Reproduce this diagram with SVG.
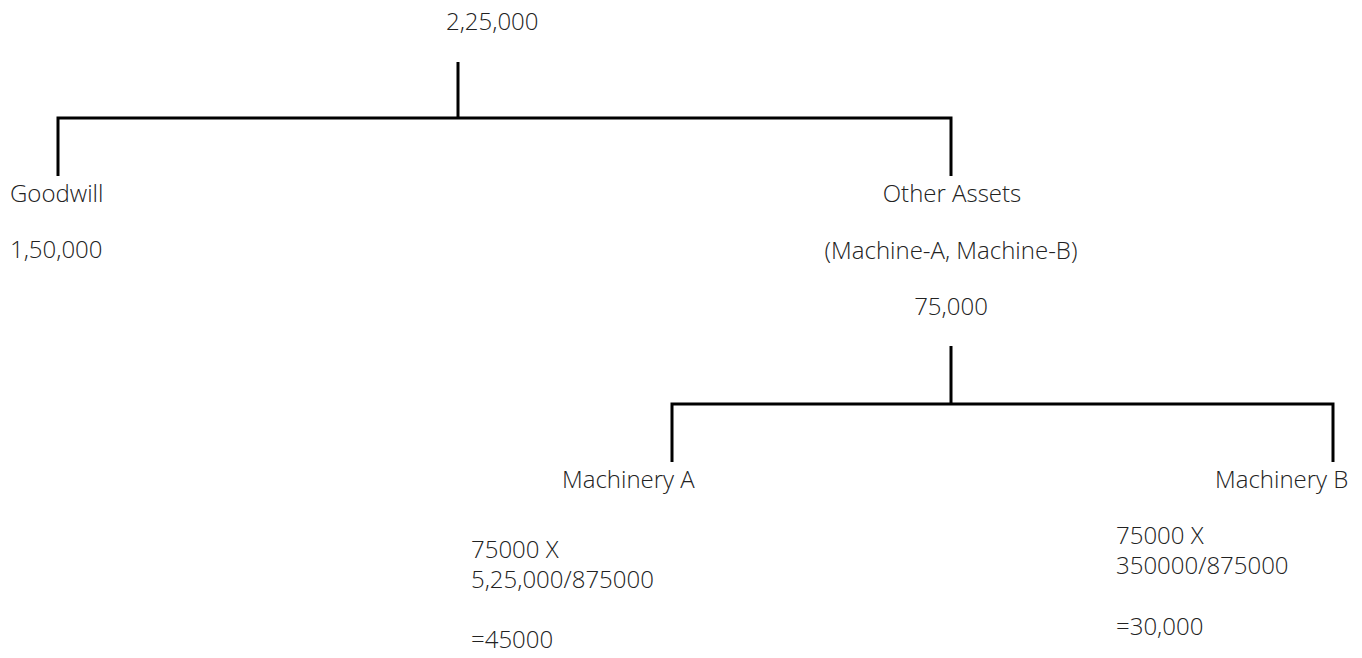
<svg xmlns="http://www.w3.org/2000/svg" width="1362" height="658" viewBox="0 0 1362 658">
<style>
.t{font-family:"Open Sans","Noto Sans",sans-serif;font-size:24px;font-weight:300;fill:#222}
.c{fill:none;stroke:#000;stroke-width:3}
</style>
<rect width="1362" height="658" fill="#fff"/>
<g id="connectors">
<path class="c" d="M458 62V118M58 176V118H951V176"/>
<path class="c" d="M951 346V404M672 462V404H1333V462"/>
</g>
<g id="root"><text class="t" x="446" y="30">2,25,000</text></g>
<g id="goodwill"><text class="t" x="10" y="202">Goodwill</text><text class="t" x="10" y="258">1,50,000</text></g>
<g id="other-assets"><text class="t" x="952" y="202" text-anchor="middle">Other Assets</text><text class="t" x="951" y="259" text-anchor="middle">(Machine-A, Machine-B)</text><text class="t" x="951" y="315" text-anchor="middle">75,000</text></g>
<g id="machinery-a"><text class="t" x="562" y="488">Machinery A</text><text class="t" x="471" y="558">75000 X</text><text class="t" x="471" y="588">5,25,000/875000</text><text class="t" x="471" y="648">=45000</text></g>
<g id="machinery-b"><text class="t" x="1215" y="488">Machinery B</text><text class="t" x="1116" y="544">75000 X</text><text class="t" x="1116" y="574">350000/875000</text><text class="t" x="1116" y="635">=30,000</text></g>
</svg>
